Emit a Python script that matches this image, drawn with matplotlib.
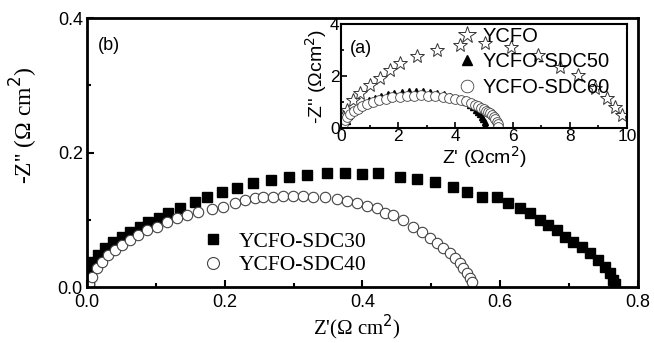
import matplotlib
matplotlib.use("Agg")
import matplotlib.pyplot as plt
from matplotlib.ticker import MultipleLocator

# main panel (b)
sdc30_x = [0.003, 0.004, 0.009, 0.016, 0.026, 0.038, 0.051, 0.062, 0.077, 0.089,
           0.104, 0.118, 0.135, 0.157, 0.174, 0.196, 0.218, 0.241, 0.267, 0.293,
           0.319, 0.348, 0.375, 0.399, 0.423, 0.454, 0.479, 0.505, 0.531, 0.552,
           0.574, 0.595, 0.611, 0.629, 0.643, 0.658, 0.669, 0.682, 0.694, 0.706,
           0.719, 0.730, 0.742, 0.752, 0.759, 0.764, 0.767]
sdc30_y = [0.003, 0.028, 0.037, 0.047, 0.058, 0.067, 0.074, 0.082, 0.089, 0.097,
           0.103, 0.110, 0.118, 0.126, 0.134, 0.141, 0.147, 0.155, 0.159, 0.164,
           0.167, 0.170, 0.170, 0.168, 0.170, 0.164, 0.161, 0.156, 0.149, 0.141,
           0.134, 0.134, 0.125, 0.117, 0.110, 0.100, 0.092, 0.085, 0.074, 0.067,
           0.059, 0.051, 0.040, 0.030, 0.021, 0.010, 0.004]

sdc40_x = [0.003, 0.007, 0.015, 0.022, 0.030, 0.041, 0.051, 0.062, 0.074, 0.087,
           0.102, 0.116, 0.131, 0.145, 0.161, 0.181, 0.197, 0.215, 0.229, 0.244,
           0.256, 0.270, 0.285, 0.299, 0.314, 0.328, 0.346, 0.363, 0.377, 0.392,
           0.407, 0.421, 0.433, 0.444, 0.459, 0.473, 0.486, 0.498, 0.508, 0.517,
           0.527, 0.534, 0.542, 0.546, 0.552, 0.556, 0.559]
sdc40_y = [0.005, 0.015, 0.028, 0.037, 0.048, 0.055, 0.062, 0.070, 0.077, 0.085,
           0.089, 0.097, 0.103, 0.107, 0.112, 0.116, 0.119, 0.125, 0.129, 0.132,
           0.134, 0.134, 0.135, 0.135, 0.135, 0.134, 0.134, 0.131, 0.128, 0.125,
           0.120, 0.117, 0.110, 0.107, 0.100, 0.089, 0.082, 0.073, 0.065, 0.058,
           0.051, 0.043, 0.036, 0.028, 0.021, 0.013, 0.007]

# inset panel (a)
ycfo_x = [0.07, 0.21, 0.42, 0.66, 1.01, 1.36, 1.71, 2.06, 2.66, 3.36,
          4.16, 5.03, 5.94, 6.89, 7.66, 8.29, 8.88, 9.30, 9.58, 9.83]
ycfo_y = [0.42, 0.69, 1.08, 1.35, 1.65, 1.92, 2.23, 2.50, 2.77, 3.00,
          3.19, 3.27, 3.12, 2.81, 2.35, 2.04, 1.54, 1.15, 0.81, 0.50]

sdc50_x = [0.15, 0.20, 0.28, 0.38, 0.50, 0.65, 0.80, 0.98, 1.18, 1.40,
           1.63, 1.87, 2.12, 2.37, 2.62, 2.87, 3.12, 3.37, 3.60, 3.82,
           4.02, 4.20, 4.36, 4.50, 4.62, 4.72, 4.80, 4.87, 4.93, 4.98,
           5.02, 5.05]
sdc50_y = [0.05, 0.28, 0.46, 0.60, 0.73, 0.86, 0.96, 1.07, 1.16, 1.24,
           1.30, 1.35, 1.39, 1.41, 1.42, 1.41, 1.39, 1.35, 1.30, 1.23,
           1.16, 1.08, 0.99, 0.90, 0.80, 0.71, 0.62, 0.53, 0.44, 0.34,
           0.22, 0.10]

sdc60_x = [0.08, 0.14, 0.22, 0.32, 0.44, 0.58, 0.74, 0.92, 1.12, 1.33,
           1.56, 1.80, 2.05, 2.30, 2.55, 2.80, 3.05, 3.30, 3.55, 3.78,
           4.00, 4.20, 4.38, 4.54, 4.68, 4.80, 4.91, 5.00, 5.08, 5.15,
           5.22, 5.28, 5.34, 5.40, 5.45, 5.48, 5.50]
sdc60_y = [0.15, 0.30, 0.43, 0.54, 0.64, 0.74, 0.83, 0.92, 1.00, 1.07,
           1.13, 1.18, 1.21, 1.24, 1.25, 1.26, 1.25, 1.24, 1.21, 1.17,
           1.13, 1.07, 1.02, 0.96, 0.90, 0.84, 0.78, 0.73, 0.67, 0.62,
           0.56, 0.50, 0.43, 0.34, 0.24, 0.15, 0.03]

serif = "Liberation Serif"
sans = "Liberation Sans"

fig = plt.figure(figsize=(6.54, 3.43), dpi=100)
ax = fig.add_axes([0.133, 0.163, 0.8425, 0.7845])

ax.plot(sdc30_x, sdc30_y, 's', color='black', ms=6.5, mec='black', label='YCFO-SDC30')
ax.plot(sdc40_x, sdc40_y, 'o', color='white', ms=7.5, mec='#444444', mew=0.8, label='YCFO-SDC40')

ax.set_xlim(0, 0.8)
ax.set_ylim(0, 0.4)
ax.xaxis.set_major_locator(MultipleLocator(0.2))
ax.xaxis.set_minor_locator(MultipleLocator(0.1))
ax.yaxis.set_major_locator(MultipleLocator(0.2))
ax.yaxis.set_minor_locator(MultipleLocator(0.1))
ax.xaxis.set_major_formatter(lambda v, p: f"{v:.1f}")
ax.yaxis.set_major_formatter(lambda v, p: f"{v:.1f}")
ax.tick_params(which='both', direction='in', width=1.5)
ax.tick_params(which='major', length=5, labelsize=13)
ax.tick_params(axis='x', which='major', pad=5)
ax.tick_params(axis='y', which='major', pad=3)
ax.tick_params(which='minor', length=3)
for lab in ax.get_xticklabels() + ax.get_yticklabels():
    lab.set_family(sans)
for s in ax.spines.values():
    s.set_linewidth(2)

ax.set_xlabel("Z'(\u03a9 cm$^2$)", family=serif, fontsize=15)
ax.set_ylabel("-Z'' (\u03a9 cm$^2$)", family=serif, fontsize=17)
ax.xaxis.set_label_coords(0.49, -0.095)
ax.yaxis.set_label_coords(-0.085, 0.6)
ax.text(0.02, 0.88, "(b)", transform=ax.transAxes, family=sans, fontsize=13)

ax.legend(loc='upper left', bbox_to_anchor=(0.185, 0.245), frameon=False,
          prop={'family': serif, 'size': 15.5}, handletextpad=0.6,
          labelspacing=0.15, handlelength=1.2, borderpad=0, markerscale=1.15)

# inset
ins = fig.add_axes([0.5214, 0.6268, 0.4373, 0.3032])
ins.plot(ycfo_x, ycfo_y, '*', color='white', ms=10, mec='#333333', mew=0.7, label='YCFO')
ins.plot(sdc50_x, sdc50_y, '^', color='black', ms=5, mec='black', label='YCFO-SDC50')
ins.plot(sdc60_x, sdc60_y, 'o', color='white', ms=7, mec='#444444', mew=0.6, label='YCFO-SDC60')
ins.set_xlim(0, 10)
ins.set_ylim(0, 4)
ins.xaxis.set_major_locator(MultipleLocator(2))
ins.xaxis.set_minor_locator(MultipleLocator(1))
ins.yaxis.set_major_locator(MultipleLocator(2))
ins.yaxis.set_minor_locator(MultipleLocator(1))
ins.tick_params(which='both', direction='in', width=1.2, pad=1)
ins.tick_params(which='major', length=4, labelsize=12.5)
ins.tick_params(which='minor', length=2)
for lab in ins.get_xticklabels() + ins.get_yticklabels():
    lab.set_family(sans)
for s in ins.spines.values():
    s.set_linewidth(1.5)
ins.set_xlabel("Z' (\u03a9cm$^2$)", family=sans, fontsize=14, labelpad=0)
ins.set_ylabel("-Z'' (\u03a9cm$^2$)", family=sans, fontsize=14, labelpad=1)
ins.text(0.03, 0.72, "(a)", transform=ins.transAxes, family=sans, fontsize=13)
ins.legend(loc='upper left', bbox_to_anchor=(0.37, 1.07), frameon=False,
           prop={'family': sans, 'size': 14.5}, handletextpad=0.3,
           labelspacing=0.32, handlelength=1.0, borderpad=0, markerscale=1.3)

fig.savefig("out.png", dpi=100)
